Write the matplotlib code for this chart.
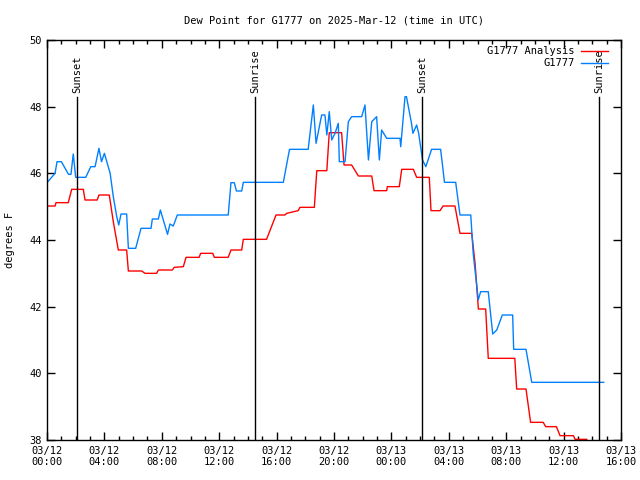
import numpy as np
import matplotlib
matplotlib.use('Agg')
from matplotlib import pyplot as plt

# hours since 2025-03-12 00:00 UTC
obs_hours = [0.0, 0.56, 0.7, 1.0, 1.5, 1.67, 1.83, 2.0, 2.7, 3.05, 3.35, 3.62, 3.8, 4.0,
             4.4, 4.62, 4.86, 5.0, 5.16, 5.55, 5.67, 6.18, 6.55, 7.25, 7.34, 7.76, 7.9,
             8.4, 8.57, 8.8, 9.08, 12.63, 12.82, 13.05, 13.2, 13.57, 13.68, 16.47, 16.63,
             16.9, 18.2, 18.56, 18.75, 19.14, 19.37, 19.5, 19.67, 19.84, 20.07, 20.3,
             20.37, 20.77, 21.0, 21.23, 21.93, 22.16, 22.4, 22.63, 22.97, 23.16, 23.32,
             23.67, 24.6, 24.65, 24.95, 25.05, 25.4, 25.5, 25.76, 25.9, 26.17, 26.4, 26.8,
             27.43, 27.7, 28.48, 28.78, 29.53, 29.7, 29.98, 30.05, 30.22, 30.75, 31.06,
             31.34, 31.73, 32.45, 32.52, 33.38, 33.78, 38.8]
obs_dewpt = [45.72, 46.0, 46.35, 46.35, 45.97, 45.97, 46.58, 45.88, 45.88, 46.2, 46.2, 46.75,
             46.35, 46.6, 46.0, 45.3, 44.7, 44.45, 44.78, 44.78, 43.75, 43.75, 44.35, 44.35,
             44.63, 44.63, 44.9, 44.17, 44.48, 44.42, 44.75, 44.75, 45.72, 45.72, 45.47,
             45.47, 45.73, 45.73, 46.1, 46.72, 46.72, 48.05, 46.9, 47.75, 47.75, 47.15, 47.85,
             47.0, 47.2, 47.5, 46.35, 46.35, 47.55, 47.7, 47.7, 48.05, 46.4, 47.55, 47.7,
             46.4, 47.3, 47.05, 47.05, 46.8, 48.3, 48.3, 47.5, 47.2, 47.45, 47.2, 46.4, 46.2,
             46.72, 46.72, 45.73, 45.73, 44.75, 44.75, 43.6, 42.5, 42.2, 42.45, 42.45, 41.18,
             41.3, 41.75, 41.75, 40.72, 40.72, 39.73, 39.73]

ana_hours = [0.0, 0.56, 0.63, 1.48, 1.72, 2.53, 2.65, 3.5, 3.62, 4.34, 4.62, 4.97, 5.55,
             5.67, 6.6, 6.83, 7.64, 7.76, 8.73, 8.87, 9.5, 9.69, 10.6, 10.71, 11.55, 11.66,
             12.63, 12.82, 13.57, 13.68, 15.3, 15.96, 16.58, 16.7, 17.5, 17.63, 18.63, 18.8,
             19.5, 19.67, 20.53, 20.7, 21.23, 21.7, 22.63, 22.79, 23.67, 23.72, 24.55, 24.72,
             25.53, 25.76, 26.64, 26.76, 27.39, 27.6, 28.43, 28.78, 29.6, 29.83, 29.99, 30.06,
             30.57, 30.75, 32.6, 32.73, 33.38, 33.7, 34.58, 34.75, 35.5, 35.75, 36.68, 36.8,
             37.61]
ana_dewpt = [45.02, 45.02, 45.12, 45.12, 45.52, 45.52, 45.2, 45.2, 45.35, 45.35, 44.55, 43.7,
             43.7, 43.07, 43.07, 43.0, 43.0, 43.1, 43.1, 43.18, 43.2, 43.48, 43.48, 43.6, 43.6,
             43.48, 43.48, 43.7, 43.7, 44.02, 44.02, 44.75, 44.75, 44.8, 44.88, 44.98, 44.98,
             46.08, 46.08, 47.22, 47.22, 46.25, 46.25, 45.92, 45.92, 45.48, 45.48, 45.6, 45.6,
             46.12, 46.12, 45.88, 45.88, 44.88, 44.88, 45.02, 45.02, 44.2, 44.2, 43.3, 42.35,
             41.93, 41.93, 40.45, 40.45, 39.53, 39.53, 38.53, 38.53, 38.4, 38.4, 38.13, 38.13,
             38.02, 38.02]

sun_hours = [2.09, 14.5, 26.13, 38.47]
sun_labels = ['Sunset', 'Sunrise', 'Sunset', 'Sunrise']

tick_hours = list(range(0, 41, 4))
tick_labels = ['03/12\n00:00', '03/12\n04:00', '03/12\n08:00', '03/12\n12:00',
               '03/12\n16:00', '03/12\n20:00', '03/13\n00:00', '03/13\n04:00',
               '03/13\n08:00', '03/13\n12:00', '03/13\n16:00']

plt.rcParams['font.family'] = 'DejaVu Sans Mono'
plt.rcParams['font.size'] = 7.5

fig = plt.figure(figsize=(6.4, 4.8), dpi=100)
ax = fig.add_axes([47 / 640, 40 / 480, 574 / 640, 400 / 480])

ax.plot(ana_hours, ana_dewpt, color='#ff0000', lw=1.0, label='G1777 Analysis')
ax.plot(obs_hours, obs_dewpt, color='#0080ff', lw=1.0, label='G1777')

for h, lab in zip(sun_hours, sun_labels):
    ax.plot([h, h], [38, 48.29], color='black', lw=1.0)
    ax.text(h, 48.42, lab, rotation=90, ha='center', va='bottom')

ax.set_xlim(0, 40)
ax.set_ylim(38, 50)
ax.set_xticks(tick_hours)
ax.set_xticklabels(tick_labels)
ax.set_xticks(range(0, 41), minor=True)
ax.set_yticks(range(38, 51, 2))
ax.tick_params(direction='in', top=True, right=True, length=6, width=1, pad=4)
ax.tick_params(which='minor', direction='in', top=True, length=3, width=1)
for s in ax.spines.values():
    s.set_linewidth(1)

ax.set_ylabel('degrees F', labelpad=10)
ax.set_title('Dew Point for G1777 on 2025-Mar-12 (time in UTC)', fontsize=7.5, pad=12)

ax.legend(loc='upper right', bbox_to_anchor=(0.988, 1.0), frameon=False,
          markerfirst=False, handlelength=2.6, handletextpad=0.6,
          borderaxespad=0.2, labelspacing=0.2)

fig.savefig('out.png', dpi=100)
